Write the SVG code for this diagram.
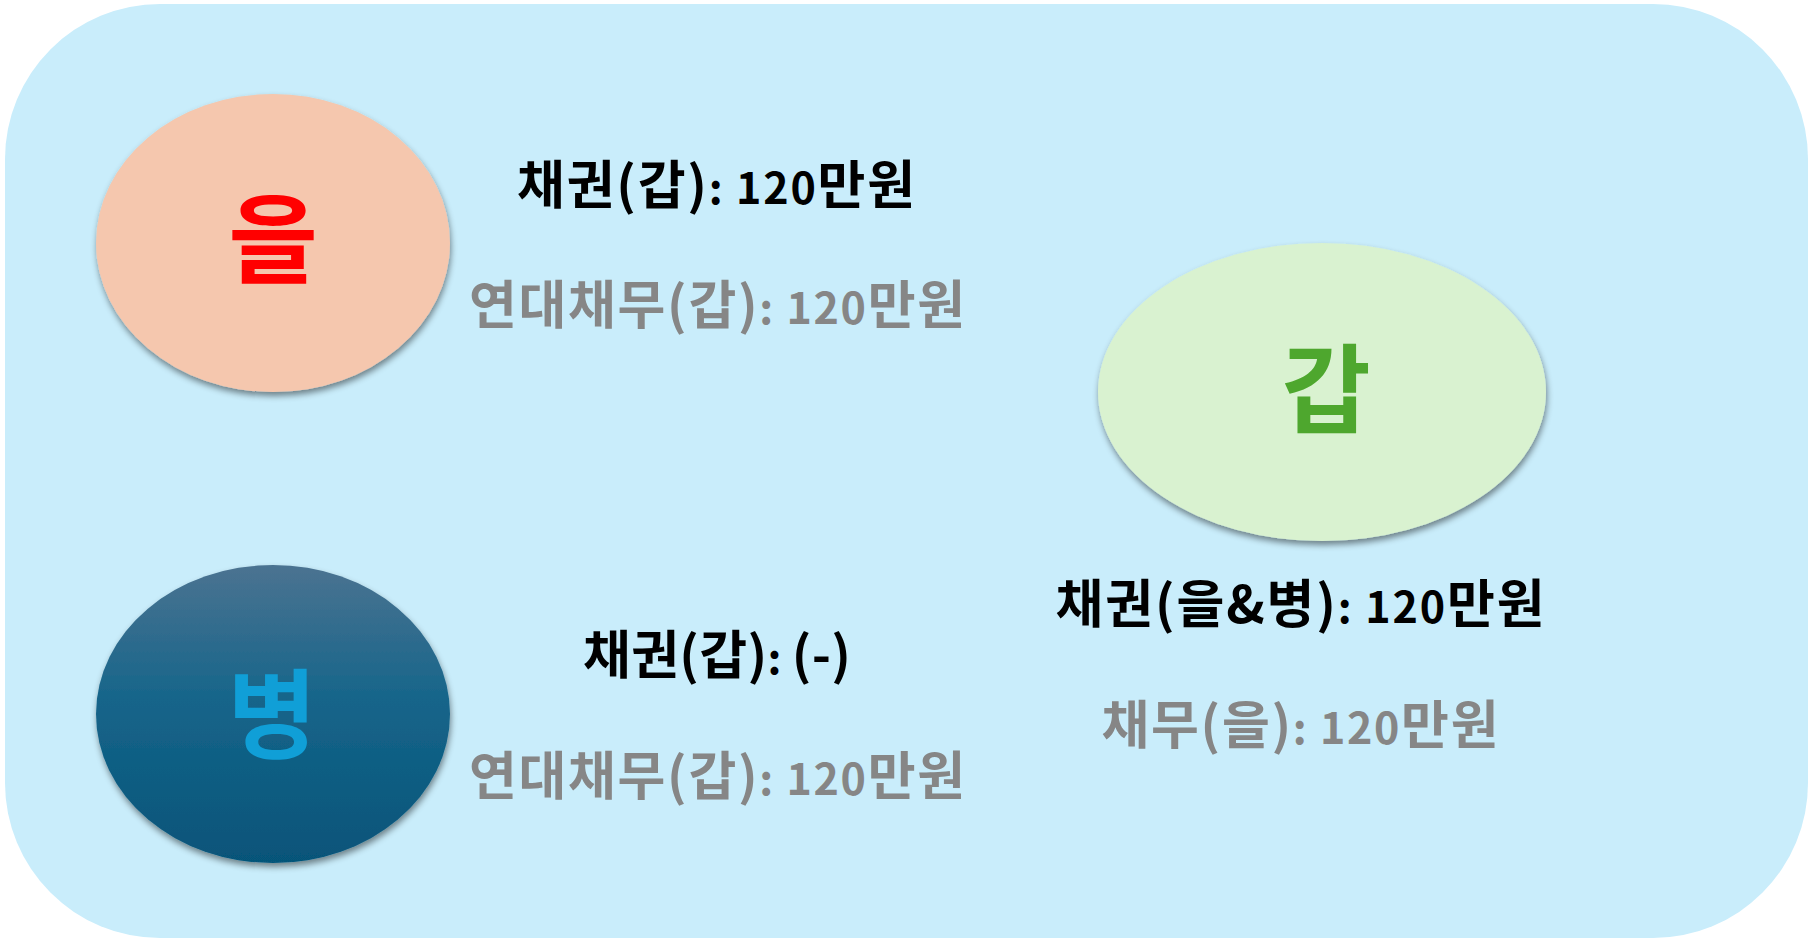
<svg xmlns="http://www.w3.org/2000/svg" width="1813" height="943" viewBox="0 0 1813 943">
<style>
.t{font-family:"Noto Sans CJK KR","Noto Sans",sans-serif;font-weight:bold;font-size:52px;text-anchor:middle}
.n{font-size:43px}
.k{fill:#000000}
.g{fill:#868686}
.big{font-family:"Noto Sans CJK KR","Noto Sans",sans-serif;font-weight:bold;font-size:97px;text-anchor:middle}
.node{filter:url(#sh)}
</style>
<defs>
<filter id="sh" x="-10%" y="-10%" width="120%" height="125%">
<feDropShadow dx="1" dy="4" stdDeviation="3" flood-color="#000000" flood-opacity="0.45"/>
</filter>
<linearGradient id="byg" x1="0" y1="0" x2="0" y2="1">
<stop offset="0" stop-color="#4B7391"/>
<stop offset="0.45" stop-color="#16658A"/>
<stop offset="1" stop-color="#065479"/>
</linearGradient>
</defs>
<rect id="background" x="5" y="4" width="1803" height="934" rx="155" ry="155" fill="#C9EDFB"/>
<g id="connectors"></g>
<g id="node-eul">
<ellipse class="node" cx="273" cy="243" rx="177" ry="149" fill="#F5C7AE"/>
<text class="big" x="273" y="275" fill="#FF0000">을</text>
</g>
<g id="node-byeong">
<ellipse class="node" cx="273" cy="714" rx="177" ry="149" fill="url(#byg)"/>
<text class="big" x="272" y="750" fill="#109FD7">병</text>
</g>
<g id="node-gap">
<ellipse class="node" cx="1322" cy="392" rx="224" ry="149" fill="#D9F2D0"/>
<text class="big" x="1326" y="425" fill="#4EA72E">갑</text>
</g>
<g id="labels-eul">
<text class="t k" x="716" y="204" textLength="398" lengthAdjust="spacing">채권(갑)<tspan class="n">: 120</tspan>만원</text>
<text class="t g" x="717" y="324" textLength="496" lengthAdjust="spacing">연대채무(갑)<tspan class="n">: 120</tspan>만원</text>
</g>
<g id="labels-byeong">
<text class="t k" x="717" y="674" textLength="268" lengthAdjust="spacing">채권(갑)<tspan class="n">: </tspan>(-)</text>
<text class="t g" x="717" y="795" textLength="496" lengthAdjust="spacing">연대채무(갑)<tspan class="n">: 120</tspan>만원</text>
</g>
<g id="labels-gap">
<text class="t k" x="1300" y="623" textLength="489" lengthAdjust="spacing">채권(을&amp;병)<tspan class="n">: 120</tspan>만원</text>
<text class="t g" x="1300" y="744" textLength="397" lengthAdjust="spacing">채무(을)<tspan class="n">: 120</tspan>만원</text>
</g>
</svg>
